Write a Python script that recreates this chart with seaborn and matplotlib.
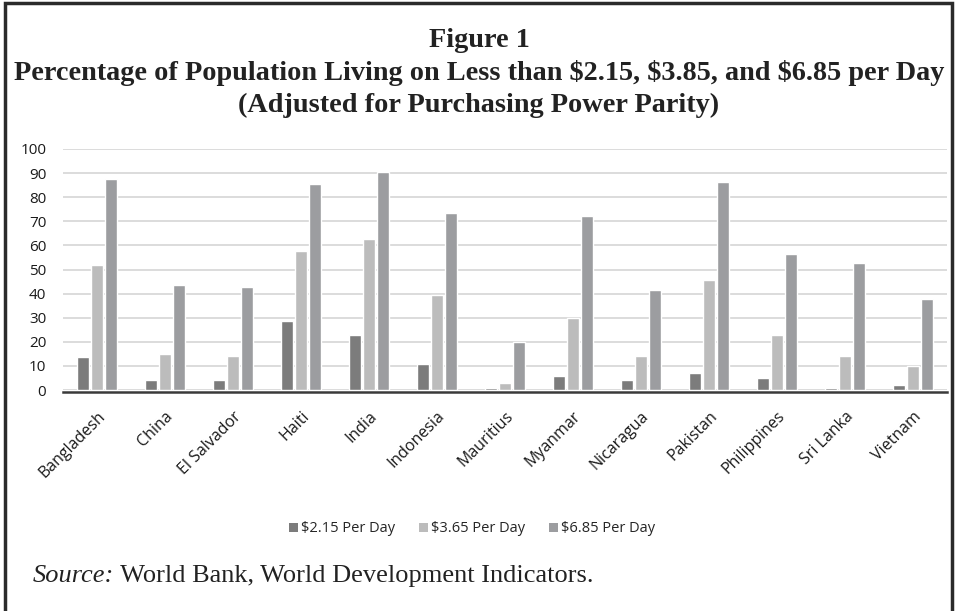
import pandas as pd
import seaborn as sns
import matplotlib.pyplot as plt
from matplotlib.patches import Patch, Rectangle

countries = ['Bangladesh', 'China', 'El Salvador', 'Haiti', 'India', 'Indonesia', 'Mauritius',
             'Myanmar', 'Nicaragua', 'Pakistan', 'Philippines', 'Sri Lanka', 'Vietnam']
series_names = ['$2.15 Per Day', '$3.65 Per Day', '$6.85 Per Day']
pov_215 = [13.9, 4.0, 4.0, 28.7, 22.8, 10.8, 1.0, 6.0, 4.0, 7.0, 5.0, 1.0, 2.0]
pov_365 = [51.7, 15.0, 14.0, 57.6, 62.6, 39.6, 3.0, 29.7, 14.0, 45.6, 23.0, 14.0, 9.9]
pov_685 = [87.6, 43.7, 42.8, 85.6, 90.6, 73.6, 19.8, 72.4, 41.6, 86.5, 56.5, 52.6, 37.6]
colors = ['#7c7c7c', '#bcbcbc', '#9c9da0']

rows = []
for name, vals in zip(series_names, [pov_215, pov_365, pov_685]):
    for c, v in zip(countries, vals):
        rows.append({'country': c, 'series': name, 'value': v})
df = pd.DataFrame(rows)

sns.set_style('white')
plt.rcParams['font.family'] = ['Open Sans', 'DejaVu Sans']

W, H = 956, 611
fig = plt.figure(figsize=(W / 100, H / 100), dpi=100)
ax = fig.add_axes([63 / W, (H - 390) / H, (947 - 63) / W, (390 - 149) / H])

sns.barplot(data=df, x='country', y='value', hue='series', palette=colors,
            width=0.62, gap=0.15, ax=ax, legend=False, saturation=1, errorbar=None)
for p in ax.patches:
    p.set_zorder(3)

ax.set_ylim(0, 100)
ax.set_yticks(range(0, 101, 10))
ax.set_xlim(-0.5, len(countries) - 0.5)
ax.yaxis.grid(True, color='#d9d9d9', linewidth=1.3)
ax.set_axisbelow(True)
for s in ['top', 'right', 'left']:
    ax.spines[s].set_visible(False)
ax.spines['bottom'].set_color('#3a3a3a')
ax.spines['bottom'].set_linewidth(1.8)
ax.spines['bottom'].set_position(('outward', 1.2))
ax.spines['bottom'].set_zorder(5)
ax.tick_params(axis='y', length=0, labelsize=11, colors='#1a1a1a', pad=12)
ax.tick_params(axis='x', length=0, labelsize=11.5, colors='#1a1a1a', pad=12)
ax.set_xlabel('')
ax.set_ylabel('')
plt.setp(ax.get_xticklabels(), rotation=45, ha='right', rotation_mode='anchor')

# legend
handles = [Patch(facecolor=c, edgecolor='none') for c in colors]
fig.legend(handles, [s.replace('$', '\\$') for s in series_names], loc='center',
           bbox_to_anchor=(472 / W, (H - 529) / H), ncol=3, frameon=False,
           fontsize=10.5, handlelength=0.65, handleheight=0.65, handletextpad=0.2,
           columnspacing=1.6, labelcolor='#262626')

# title
serif = ['Liberation Serif', 'DejaVu Serif']
title_lines = ['Figure 1',
               'Percentage of Population Living on Less than \\$2.15, \\$3.85, and \\$6.85 per Day',
               '(Adjusted for Purchasing Power Parity)']
for line, base in zip(title_lines, [47, 80, 112]):
    fig.text(479 / W, (H - base) / H, line, ha='center', va='baseline', family=serif,
             fontsize=20.3, fontweight='bold', color='#222222')

# source
src = fig.text(33 / W, (H - 582) / H, 'Source:', ha='left', va='baseline', family=serif,
               fontsize=19, style='italic', color='#222222')
ax.annotate(' World Bank, World Development Indicators.', xy=(1, 0), xycoords=src,
            va='bottom', ha='left', family=serif, fontsize=19, color='#222222',
            annotation_clip=False)

# frame around the figure
fig.patches.append(Rectangle((5 / W, -0.05), (952 - 5) / W, 1.05 - 3 / H, transform=fig.transFigure,
                             fill=False, edgecolor='#2b2b2b', linewidth=2.5))

fig.savefig('out.png', dpi=100)
